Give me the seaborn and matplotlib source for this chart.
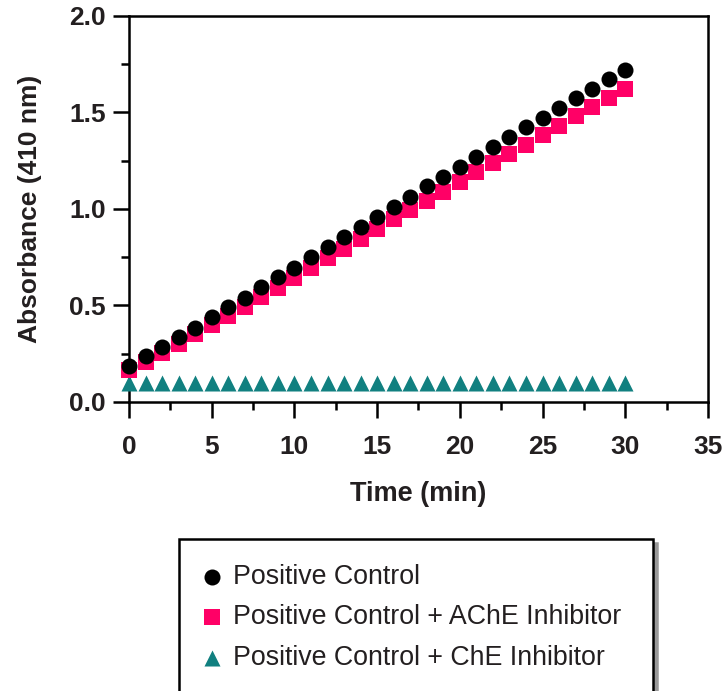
import matplotlib
matplotlib.use("Agg")
import matplotlib.pyplot as plt
from matplotlib.ticker import MultipleLocator
import seaborn as sns
import pandas as pd

time_min = list(range(31))

positive_control = [
    0.186, 0.238, 0.286, 0.338, 0.385, 0.440, 0.490, 0.540, 0.594, 0.646,
    0.695, 0.749, 0.801, 0.854, 0.905, 0.956, 1.012, 1.063, 1.118, 1.166,
    1.218, 1.270, 1.322, 1.372, 1.422, 1.472, 1.522, 1.572, 1.620, 1.671,
    1.721,
]
ache_inhibitor = [
    0.166, 0.207, 0.254, 0.302, 0.350, 0.398, 0.446, 0.494, 0.542, 0.592,
    0.642, 0.692, 0.743, 0.793, 0.843, 0.894, 0.945, 0.995, 1.042, 1.089,
    1.140, 1.190, 1.237, 1.285, 1.332, 1.380, 1.431, 1.479, 1.527, 1.573,
    1.622,
]
che_inhibitor = [0.10] * 31

series_labels = [
    "Positive Control",
    "Positive Control + AChE Inhibitor",
    "Positive Control + ChE Inhibitor",
]
x_ticks = [0, 5, 10, 15, 20, 25, 30, 35]
y_ticks = [0.0, 0.5, 1.0, 1.5, 2.0]

TEXT = "#231f20"
COLORS = {series_labels[0]: "#000000",
          series_labels[1]: "#ff0066",
          series_labels[2]: "#118080"}
MARKERS = {series_labels[0]: "o",
           series_labels[1]: "s",
           series_labels[2]: "^"}

sns.set_style("ticks")
plt.rcParams["font.family"] = ["Liberation Sans", "DejaVu Sans"]

fig = plt.figure(figsize=(7.26, 6.91), dpi=100)
ax = fig.add_axes([129 / 726, 1 - 402 / 691, 579 / 726, 386.3 / 691])

# draw triangles first, then squares, circles on top
values = {series_labels[0]: positive_control,
          series_labels[1]: ache_inhibitor,
          series_labels[2]: che_inhibitor}
for lab in [series_labels[2], series_labels[1], series_labels[0]]:
    df = pd.DataFrame({"time": time_min, "abs": values[lab]})
    sns.scatterplot(data=df, x="time", y="abs", ax=ax, color=COLORS[lab],
                    marker=MARKERS[lab], s=133, linewidth=0, label=lab,
                    clip_on=False, zorder=3)

ax.set_xlim(0, 35)
ax.set_ylim(0, 2.0)
ax.set_xticks(x_ticks)
ax.set_yticks(y_ticks)
ax.set_yticklabels([f"{v:.1f}" for v in y_ticks])
ax.xaxis.set_minor_locator(MultipleLocator(2.5))
ax.yaxis.set_minor_locator(MultipleLocator(0.25))

for side in ["left", "bottom", "top", "right"]:
    ax.spines[side].set_visible(True)
    ax.spines[side].set_linewidth(1.8)
    ax.spines[side].set_color("black")

ax.tick_params(which="major", direction="out", length=11.5, width=1.8,
               color="black", labelsize=19, labelcolor=TEXT)
ax.tick_params(which="minor", direction="out", length=6, width=1.8,
               color="black")
ax.tick_params(axis="x", which="major", pad=12)
ax.tick_params(axis="y", which="major", pad=5)
ax.tick_params(top=False, right=False, which="both")
for lbl in ax.get_xticklabels() + ax.get_yticklabels():
    lbl.set_fontweight("bold")

ax.set_xlabel("Time (min)", fontsize=19.5, fontweight="bold", color=TEXT,
              labelpad=16)
ax.set_ylabel("Absorbance (410 nm)", fontsize=19, fontweight="bold",
              color=TEXT, labelpad=20)

handles, labels = ax.get_legend_handles_labels()
ax.get_legend().remove()
order = [labels.index(l) for l in series_labels]
leg = fig.legend([handles[i] for i in order], [labels[i] for i in order],
                 loc="upper left",
                 bbox_to_anchor=(179 / 726, 1 - 539 / 691, 474 / 726, 0),
                 mode="expand", borderaxespad=0, frameon=True, fancybox=False,
                 shadow={"ox": 3, "oy": -3, "color": "0.6", "alpha": 1},
                 framealpha=1, edgecolor="black", fontsize=19.3,
                 borderpad=0.92, labelspacing=0.55, handlelength=0.6,
                 handletextpad=0.5)
leg.get_frame().set_linewidth(1.8)
for t in leg.get_texts():
    t.set_color(TEXT)

fig.savefig("out.png", dpi=100)
